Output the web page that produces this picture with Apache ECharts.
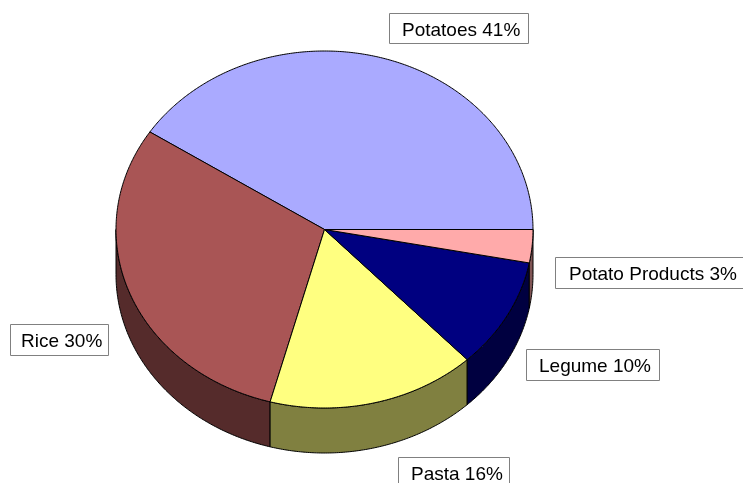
<!DOCTYPE html>
<html>
<head>
<meta charset="utf-8">
<style>
  html, body { margin: 0; padding: 0; background: #fff; }
  #main { width: 743px; height: 483px; }
</style>
<script src="https://cdn.jsdelivr.net/npm/echarts@6/dist/echarts.min.js"></script>
</head>
<body>
<div id="main"></div>
<script>
const categories = ['Potatoes', 'Rice', 'Pasta', 'Legume', 'Potato Products']
const shares = [40.8, 30, 16.2, 10, 3]
const topColors = ['#AAAAFF', '#A95555', '#FFFF80', '#000080', '#FFAAAA']
const wallColors = ['#555580', '#552B2B', '#808040', '#000040', '#805555']

// tilted pie geometry
const cx = 324.5
const cy = 229.5
const rx = 208.5
const ry = 178.5
const depth = 45

// label box [x, y, w, h, textX]
const labelBoxes = [
  [389.5, 13.5, 139, 30, 402],
  [10.5, 324.5, 98, 31, 21],
  [398.5, 457.5, 111, 31, 411],
  [526.5, 349.5, 133, 31, 539],
  [555.5, 257.5, 200, 31, 569]
]

const total = shares.reduce((a, b) => a + b, 0)

const rimPoint = (deg, drop) => {
  const t = (deg * Math.PI) / 180
  return [cx + rx * Math.cos(t), cy - ry * Math.sin(t) + drop]
}

const arcPoints = (from, to, drop) => {
  const steps = Math.max(2, Math.ceil(Math.abs(to - from) * 2))
  const pts = []
  for (let i = 0; i <= steps; i++) {
    pts.push(rimPoint(from + ((to - from) * i) / steps, drop))
  }
  return pts
}

const renderSlice = (params, api) => {
  const i = params.dataIndex
  const before = shares.slice(0, i).reduce((a, b) => a + b, 0)
  const start = (before / total) * 360
  const end = ((before + api.value(0)) / total) * 360
  const children = []

  // only the front half of the rim shows a side wall
  const wallStart = Math.max(start, 180)
  if (end > wallStart) {
    children.push({
      type: 'polygon',
      shape: {
        points: arcPoints(wallStart, end, 0).concat(arcPoints(end, wallStart, depth))
      },
      style: { fill: wallColors[i], stroke: '#000', lineWidth: 1 }
    })
  }
  children.push({
    type: 'polygon',
    shape: { points: [[cx, cy]].concat(arcPoints(start, end, 0)) },
    style: { fill: topColors[i], stroke: '#000', lineWidth: 1 }
  })

  const box = labelBoxes[i]
  children.push({
    type: 'rect',
    shape: { x: box[0], y: box[1], width: box[2], height: box[3] },
    style: { fill: '#fff', stroke: '#808080', lineWidth: 1 }
  })
  children.push({
    type: 'text',
    style: {
      x: box[4],
      y: box[1] + box[3] / 2 + 2,
      text: categories[i] + ' ' + Math.round(shares[i]) + '%',
      fill: '#000',
      font: '19px "Liberation Sans"',
      textAlign: 'left',
      textVerticalAlign: 'middle'
    }
  })
  return { type: 'group', children }
}

const myChart = echarts.init(document.getElementById('main'), null, { renderer: 'canvas' })
myChart.setOption({
  animation: false,
  backgroundColor: '#fff',
  series: [
    {
      type: 'custom',
      coordinateSystem: 'none',
      silent: true,
      renderItem: renderSlice,
      data: shares.map((v, i) => ({ name: categories[i], value: [v] }))
    }
  ]
})
</script>
</body>
</html>
